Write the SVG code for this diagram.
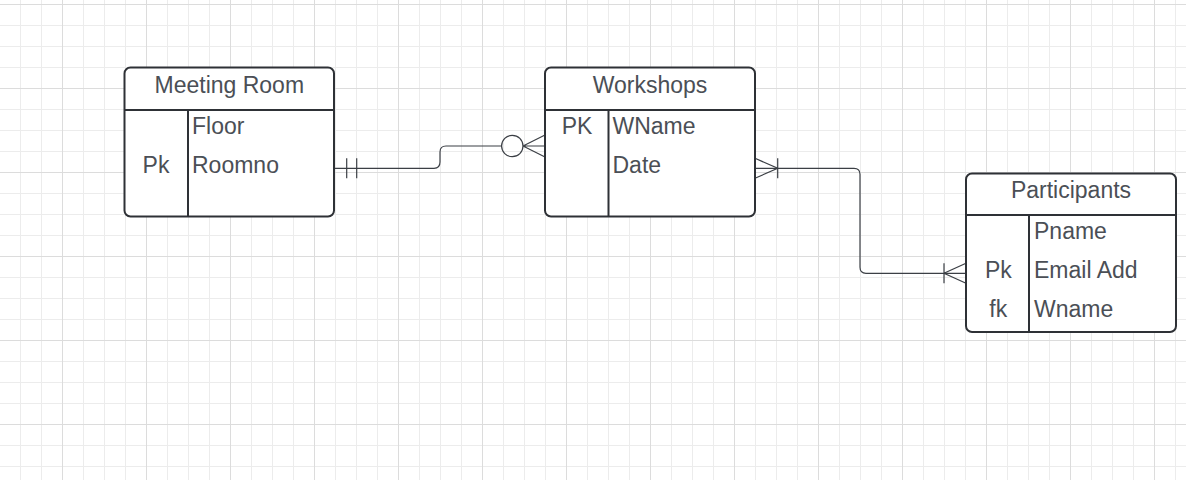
<svg xmlns="http://www.w3.org/2000/svg" width="1186" height="480" viewBox="0 0 1186 480">
<style>
.box{fill:#ffffff;stroke:#2e3136;stroke-width:2}
.div{stroke:#2e3136;stroke-width:2;fill:none}
.t{font-family:"Liberation Sans",Arial,sans-serif;font-size:23px;fill:#4b4f56}
.c{text-anchor:middle}
.ln{stroke:#3b3f45;stroke-width:1.2;fill:none}
</style>
<defs>
<pattern id="grid" x="62" y="4" width="84" height="84" patternUnits="userSpaceOnUse">
<rect x="21" y="0" width="1" height="84" fill="#ececec"/>
<rect x="42" y="0" width="1" height="84" fill="#ececec"/>
<rect x="63" y="0" width="1" height="84" fill="#ececec"/>
<rect x="0" y="21" width="84" height="1" fill="#ececec"/>
<rect x="0" y="42" width="84" height="1" fill="#ececec"/>
<rect x="0" y="63" width="84" height="1" fill="#ececec"/>
<rect x="0" y="0" width="1" height="84" fill="#dcdcdc"/>
<rect x="0" y="0" width="84" height="1" fill="#dcdcdc"/>
</pattern>
</defs>
<rect x="0" y="0" width="1186" height="480" fill="#ffffff"/>
<rect x="0" y="0" width="1186" height="480" fill="url(#grid)"/>

<g id="connectors">
<path class="ln" d="M334,168.3 H434 Q440,168.3 440,162 V152 Q440,146 446,146 H501.6"/>
<circle class="ln" cx="512.3" cy="146" r="10.7"/>
<path class="ln" d="M523,146 L545,135 M523,146 H545 M523,146 L545,157"/>
<path class="ln" d="M346.7,158.3 V178.3 M356.7,158.3 V178.3"/>
<path class="ln" d="M755,168.3 H854 Q860,168.3 860,174.3 V267.3 Q860,273.3 866,273.3 H966"/>
<path class="ln" d="M755,158.3 L777.7,168.3 L755,178.3 M777.7,158.3 V178.3"/>
<path class="ln" d="M966,263.3 L944,273.3 L966,283.3 M944,263.3 V283.3"/>
</g>

<g id="meeting-room">
<rect class="box" x="124.5" y="67.5" width="209.5" height="149" rx="6"/>
<path class="div" d="M124.5,110 H334 M188,110 V216.5"/>
<text class="t c" x="229.3" y="93">Meeting Room</text>
<text class="t" x="192" y="134">Floor</text>
<text class="t" x="192" y="172.7">Roomno</text>
<text class="t c" x="156" y="172.7">Pk</text>
</g>

<g id="workshops">
<rect class="box" x="545" y="67.5" width="210" height="149" rx="6"/>
<path class="div" d="M545,110 H755 M608.5,110 V216.5"/>
<text class="t c" x="650" y="93">Workshops</text>
<text class="t c" x="577" y="134">PK</text>
<text class="t" x="612.5" y="134">WName</text>
<text class="t" x="612.5" y="172.7">Date</text>
</g>

<g id="participants">
<rect class="box" x="966" y="173.5" width="210" height="158.5" rx="6"/>
<path class="div" d="M966,215 H1176 M1029,215 V332"/>
<text class="t c" x="1071" y="198.3">Participants</text>
<text class="t" x="1034" y="239.3">Pname</text>
<text class="t" x="1034" y="278.3">Email Add</text>
<text class="t" x="1034" y="316.7">Wname</text>
<text class="t c" x="998.3" y="278.3">Pk</text>
<text class="t c" x="998.3" y="316.7">fk</text>
</g>
</svg>
